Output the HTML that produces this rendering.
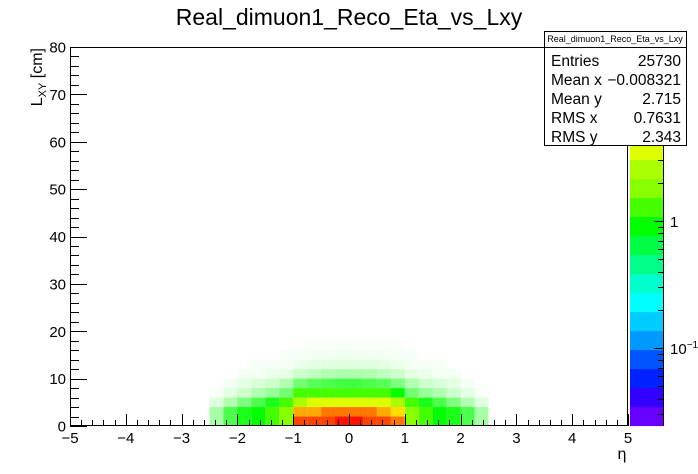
<!DOCTYPE html>
<html><head><meta charset="utf-8"><style>
html,body{margin:0;padding:0;background:#fff;}
svg{display:block;font-family:"Liberation Sans",sans-serif;}
</style></head><body>
<svg id="c" width="698" height="474" viewBox="0 0 698 474">
<rect x="0" y="0" width="698" height="474" fill="#fff"/>
<text x="349" y="25" font-size="23" text-anchor="middle">Real_dimuon1_Reco_Eta_vs_Lxy</text>
<g id="cells"></g>
<g id="axes"></g>
<g id="pal"></g>
<text x="622" y="459" font-size="16" text-anchor="middle">η</text>
<text transform="translate(42,48) rotate(-90)" font-size="16" text-anchor="end">L<tspan font-size="11" dy="4">XY</tspan><tspan dy="-4"> [cm]</tspan></text>
<g>
<rect x="544.5" y="31.5" width="142" height="114" fill="#fff" stroke="#000"/>
<line x1="544.5" y1="47.5" x2="686.5" y2="47.5" stroke="#000"/>
<text x="615" y="42" font-size="9" text-anchor="middle">Real_dimuon1_Reco_Eta_vs_Lxy</text>
<g font-size="15.5">
<text x="551" y="66">Entries</text><text x="681" y="66" text-anchor="end">25730</text>
<text x="551" y="85">Mean x</text><text x="681" y="85" text-anchor="end">−0.008321</text>
<text x="551" y="104">Mean y</text><text x="681" y="104" text-anchor="end">2.715</text>
<text x="551" y="123">RMS x</text><text x="681" y="123" text-anchor="end">0.7631</text>
<text x="551" y="142">RMS y</text><text x="681" y="142" text-anchor="end">2.343</text>
</g></g>
</svg>
<script>
// Data: 2D histogram, columns eta bins (width 0.25, -2.5..2.5), rows Lxy bins (2 cm, 0..18)
const etaEdges = [-2.5,-2.25,-2,-1.75,-1.5,-1.25,-1,-0.75,-0.5,-0.25,0,0.25,0.5,0.75,1,1.25,1.5,1.75,2,2.25,2.5];
const lxyEdges = [0,2,4,6,8,10,12,14,16,18];
const row0 = [0.35,0.7,0.9,1.0,1.3,1.8,12,14,16,17,17,16,14,10,1.8,1.3,1.0,0.9,0.7,0.35];
const row1 = [0.35,0.7,0.9,1.0,1.3,1.7,7,8,9,9,9,9,8,5,1.7,1.3,1.0,0.9,0.7,0.35];
const row2 = [0.12,0.3,0.5,0.7,0.9,1.1,2.8,3.3,3.6,3.8,3.8,3.6,3.3,2.4,1.1,0.9,0.7,0.5,0.3,0.12];
const row3 = [0.03,0.1,0.2,0.3,0.4,0.55,1.1,1.3,1.5,1.5,1.5,1.5,1.3,1.0,0.55,0.4,0.3,0.2,0.1,0.03];
const row4 = [0,0.05,0.1,0.15,0.2,0.3,0.55,0.65,0.7,0.75,0.75,0.7,0.65,0.5,0.3,0.2,0.15,0.1,0.05,0];
const row5 = [0,0,0.05,0.05,0.08,0.1,0.2,0.25,0.3,0.32,0.32,0.3,0.25,0.2,0.1,0.08,0.05,0.05,0,0];
const row6 = [0,0,0,0.03,0.04,0.05,0.08,0.1,0.12,0.12,0.12,0.12,0.1,0.08,0.05,0.04,0.03,0,0,0];
const row7 = [0,0,0,0,0,0.03,0.04,0.05,0.05,0.06,0.06,0.05,0.05,0.04,0.03,0,0,0,0,0];
const row8 = [0,0,0,0,0,0,0.02,0.02,0.02,0.03,0.03,0.02,0.02,0.02,0,0,0,0,0,0];
const rows = [row0,row1,row2,row3,row4,row5,row6,row7,row8];
const xTicks = [-5,-4,-3,-2,-1,0,1,2,3,4,5];
const yTicks = [0,10,20,30,40,50,60,70,80];
const palColors = ["#6600ff","#3300ff","#0022ff","#0055ff","#0099ff","#00ccff","#00ffff","#00ffcc","#00ff88","#00ff44","#00ff00","#44ff00","#88ff00","#aaff00","#ddff00","#ffdd00","#ffaa00","#ff7700","#ff4400","#ff1100"];

const NS="http://www.w3.org/2000/svg";
const X0=70,X1=628,Y0=426,Y1=47;
const xs=v=>X0+(v+5)/10*(X1-X0);
const ys=v=>Y0-(v/80)*(Y0-Y1);
const zy=v=>221-127*Math.log10(v);
function mk(tag,attrs,parent){const e=document.createElementNS(NS,tag);for(const k in attrs)e.setAttribute(k,attrs[k]);parent.appendChild(e);return e;}
const cells=document.getElementById('cells');
rows.forEach((r,j)=>r.forEach((v,i)=>{
  if(v<=0)return;
  const idx=Math.max(0,Math.min(19,Math.floor((Y0-zy(Math.max(v,1)))/19)));
  const x=xs(etaEdges[i]),w=xs(etaEdges[i+1])-x;
  const y=ys(lxyEdges[j+1]),h=ys(lxyEdges[j])-y;
  const rc=mk('rect',{x:x,y:y,width:w,height:h,fill:palColors[idx],'fill-opacity':Math.min(1,v)},cells);
  
  
}));
const ax=document.getElementById('axes');
mk('rect',{x:X0+0.5,y:Y1+0.5,width:X1-X0-1,height:Y0-Y1-1,fill:'none',stroke:'#000'},ax);
for(let k=0;k<=50;k++){const v=-5+k*0.2;const x=Math.round(xs(v))+0.5;const major=k%5===0;
  mk('line',{x1:x,y1:Y0,x2:x,y2:Y0-(major?12:6),stroke:'#000'},ax);}
xTicks.forEach(v=>{const t=mk('text',{x:xs(v),y:443,'font-size':15,'text-anchor':'middle'},ax);t.textContent=(v<0?'−':'')+Math.abs(v);
  
  });
for(let k=0;k<=40;k++){const v=k*2;const y=Math.round(ys(v))+0.5;const major=k%5===0;
  mk('line',{x1:X0,y1:y,x2:X0+(major?17:9),y2:y,stroke:'#000'},ax);}
yTicks.forEach(v=>{const t=mk('text',{x:66,y:ys(v)+5.5,'font-size':15,'text-anchor':'end'},ax);t.textContent=v;
  
  });
const pal=document.getElementById('pal');
palColors.forEach((c,i)=>{const r=mk('rect',{x:630,y:Y0-19*(i+1),width:33,height:19.1,fill:c},pal);
  
  });
[0.03,0.04,0.05,0.06,0.07,0.08,0.09,0.1,0.2,0.3,0.4,0.5,0.6,0.7,0.8,0.9,1,2,3,4,5,6,7,8,9,10,20].forEach(v=>{
  const y=Math.round(zy(v))+0.5;if(y<Y1||y>Y0)return;const big=(v===1||v===0.1||v===10);
  mk('line',{x1:663,y1:y,x2:663-(big?9:5),y2:y,stroke:'#000'},pal);});
mk('line',{x1:663.5,y1:Y1,x2:663.5,y2:Y0,stroke:'#000'},pal);
let t=mk('text',{x:670,y:zy(1)+6,'font-size':15},pal);t.textContent='1';


t=mk('text',{x:670,y:zy(0.1)+6,'font-size':15},pal);t.innerHTML='10<tspan font-size="10" dy="-6">−1</tspan>';


</script>
</body></html>
